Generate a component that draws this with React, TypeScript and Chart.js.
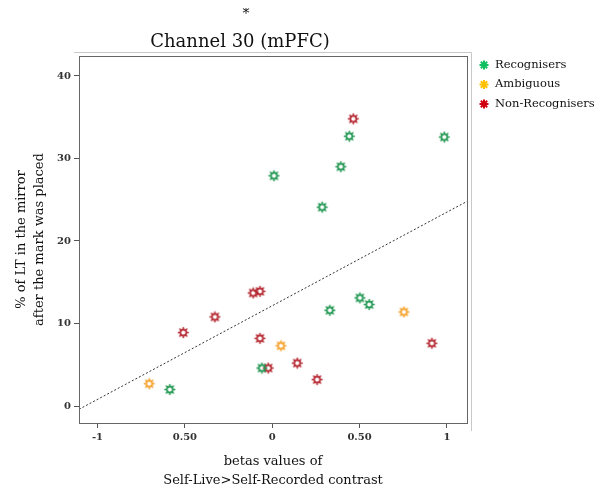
import React, { useEffect, useRef } from "react";
import { Chart, registerables } from "chart.js";

Chart.register(...registerables);

// ---- data ----
const groupNames = ["Recognisers", "Ambiguous", "Non-Recognisers"];

const recognisersX = [0.01, 0.286, 0.393, 0.441, 0.985, 0.33, 0.502, 0.555, -0.059, -0.586];
const recognisersY = [27.9, 24.1, 29.0, 32.7, 32.6, 11.6, 13.1, 12.3, 4.6, 2.0];

const ambiguousX = [-0.704, 0.05, 0.754];
const ambiguousY = [2.7, 7.3, 11.4];

const nonRecognisersX = [0.464, -0.109, -0.07, -0.328, -0.509, -0.07, -0.023, 0.143, 0.257, 0.914];
const nonRecognisersY = [34.8, 13.7, 13.9, 10.8, 8.9, 8.2, 4.6, 5.2, 3.2, 7.6];

const fitLineX = [-1.106, 1.115];
const fitLineY = [-0.4, 24.8];

const xTickValues = [-1, -0.5, 0, 0.5, 1];
const xTickLabels = ["-1", "0.50", "0", "0.50", "1"];
const yTickValues = [0, 10, 20, 30, 40];

const titleStar = "*";
const titleText = "Channel 30 (mPFC)";
const yTitle = ["% of LT in the mirror", "after the mark was placed"];
const xTitle = ["betas values of", "Self-Live>Self-Recorded contrast"];

// ---- styles ----
const markerColors = ["rgba(30,150,80,0.9)", "rgba(245,160,40,0.9)", "rgba(180,35,45,0.9)"];
const legendColors = ["#10c060", "#ffc000", "#d00010"];
const SERIF = "'DejaVu Serif', serif";
const CANVAS_W = 587;
const CANVAS_H = 484;

function makeMarker(color: string): HTMLCanvasElement {
  const c = document.createElement("canvas");
  const s = 13;
  c.width = s;
  c.height = s;
  const g = c.getContext("2d")!;
  g.translate(s / 2, s / 2);
  g.strokeStyle = color;
  g.lineWidth = 1.5;
  for (let i = 0; i < 8; i++) {
    const a = (i * Math.PI) / 4;
    g.beginPath();
    g.moveTo(Math.cos(a) * 2.5, Math.sin(a) * 2.5);
    g.lineTo(Math.cos(a) * 5.6, Math.sin(a) * 5.6);
    g.stroke();
  }
  g.lineWidth = 1.8;
  g.beginPath();
  g.arc(0, 0, 3.0, 0, Math.PI * 2);
  g.stroke();
  return c;
}

const decorPlugin = {
  id: "decor",
  afterDraw(chart: any) {
    const { ctx, chartArea } = chart;
    const { left, right, top, bottom } = chartArea;
    ctx.save();
    // outer light frame lines
    ctx.strokeStyle = "#c8c8c8";
    ctx.lineWidth = 1;
    ctx.beginPath();
    ctx.moveTo(left - 5, top - 3.5);
    ctx.lineTo(right + 4.5, top - 3.5);
    ctx.lineTo(right + 4.5, bottom + 8);
    ctx.stroke();
    // plot box
    ctx.strokeStyle = "#666";
    ctx.lineWidth = 1;
    ctx.strokeRect(Math.round(left) + 0.5, Math.round(top) + 0.5, Math.round(right - left), Math.round(bottom - top));

    // title
    ctx.fillStyle = "#111";
    ctx.textAlign = "center";
    ctx.textBaseline = "middle";
    ctx.font = `14px ${SERIF}`;
    ctx.fillText(titleStar, 238, 6);
    ctx.font = `18px ${SERIF}`;
    ctx.fillText(titleText, 232, 34);

    // legend
    const lx = right + 17;
    const ly0 = top + 9;
    ctx.font = `11.5px ${SERIF}`;
    ctx.textAlign = "left";
    groupNames.forEach((name, i) => {
      const cy = ly0 + i * 19.5;
      ctx.strokeStyle = legendColors[i];
      ctx.lineWidth = 2;
      for (let k = 0; k < 4; k++) {
        const a = (k * Math.PI) / 4;
        ctx.beginPath();
        ctx.moveTo(lx - Math.cos(a) * 4.5, cy - Math.sin(a) * 4.5);
        ctx.lineTo(lx + Math.cos(a) * 4.5, cy + Math.sin(a) * 4.5);
        ctx.stroke();
      }
      ctx.fillStyle = "#111";
      ctx.fillText(name, lx + 11, cy);
    });
    ctx.restore();
  },
};

export default function App() {
  const ref = useRef<HTMLCanvasElement | null>(null);

  useEffect(() => {
    if (!ref.current) return;
    const prevHtml = document.documentElement.style.overflow;
    const prevBody = document.body.style.overflow;
    document.documentElement.style.overflow = "hidden";
    document.body.style.overflow = "hidden";

    const toPts = (xs: number[], ys: number[]) => xs.map((x, i) => ({ x, y: ys[i] }));
    const seriesX = [recognisersX, ambiguousX, nonRecognisersX];
    const seriesY = [recognisersY, ambiguousY, nonRecognisersY];

    const pointSets = groupNames.map((name, i) => ({
      type: "scatter" as const,
      label: name,
      data: toPts(seriesX[i], seriesY[i]),
      pointStyle: makeMarker(markerColors[i]),
      pointRadius: 5,
      backgroundColor: markerColors[i],
      borderColor: markerColors[i],
    }));

    const tickFont = { family: SERIF, size: 10, weight: "bold" as const };
    const titleFont = { family: SERIF, size: 13, lineHeight: 19 / 13 };

    const chart = new Chart(ref.current, {
      type: "scatter",
      data: {
        datasets: [
          {
            type: "line" as const,
            label: "fit",
            data: toPts(fitLineX, fitLineY),
            showLine: true,
            pointRadius: 0,
            borderColor: "#333",
            borderWidth: 1,
            borderDash: [2, 2],
            fill: false,
          } as any,
          ...pointSets,
        ],
      },
      options: {
        animation: false,
        responsive: false,
        maintainAspectRatio: false,
        layout: { padding: { top: 48, right: 128, left: 0, bottom: 0 } },
        plugins: {
          legend: { display: false },
          title: { display: false },
          tooltip: { enabled: false },
        },
        scales: {
          x: {
            type: "linear",
            min: -1.106,
            max: 1.115,
            afterFit: (s: any) => {
              s.height = 69;
            },
            afterBuildTicks: (s: any) => {
              s.ticks = xTickValues.map((v) => ({ value: v }));
            },
            ticks: {
              autoSkip: false,
              maxRotation: 0,
              padding: 3,
              color: "#333",
              font: tickFont,
              callback: (_v: any, i: number) => xTickLabels[i],
            },
            grid: { drawOnChartArea: false, drawTicks: true, tickLength: 5, color: "#555" },
            border: { display: false },
            title: {
              display: true,
              text: xTitle,
              color: "#111",
              font: titleFont,
              padding: { top: 0, bottom: 1.5 },
            },
          },
          y: {
            type: "linear",
            min: -2.06,
            max: 42.42,
            afterFit: (s: any) => {
              s.width = 71;
            },
            afterBuildTicks: (s: any) => {
              s.ticks = yTickValues.map((v) => ({ value: v }));
            },
            ticks: {
              autoSkip: false,
              padding: 3,
              color: "#333",
              font: tickFont,
              callback: (v: any) => String(v),
            },
            grid: { drawOnChartArea: false, drawTicks: true, tickLength: 5, color: "#555" },
            border: { display: false },
            title: {
              display: true,
              text: yTitle,
              color: "#111",
              font: { family: SERIF, size: 13, lineHeight: 18 / 13 },
              padding: { top: 5, bottom: 0 },
            },
          },
        },
      },
      plugins: [decorPlugin],
    } as any);

    return () => {
      chart.destroy();
      document.documentElement.style.overflow = prevHtml;
      document.body.style.overflow = prevBody;
    };
  }, []);

  return (
    <div style={{ width: CANVAS_W, height: CANVAS_H }}>
      <canvas ref={ref} width={CANVAS_W} height={CANVAS_H} style={{ display: "block" }} />
    </div>
  );
}
